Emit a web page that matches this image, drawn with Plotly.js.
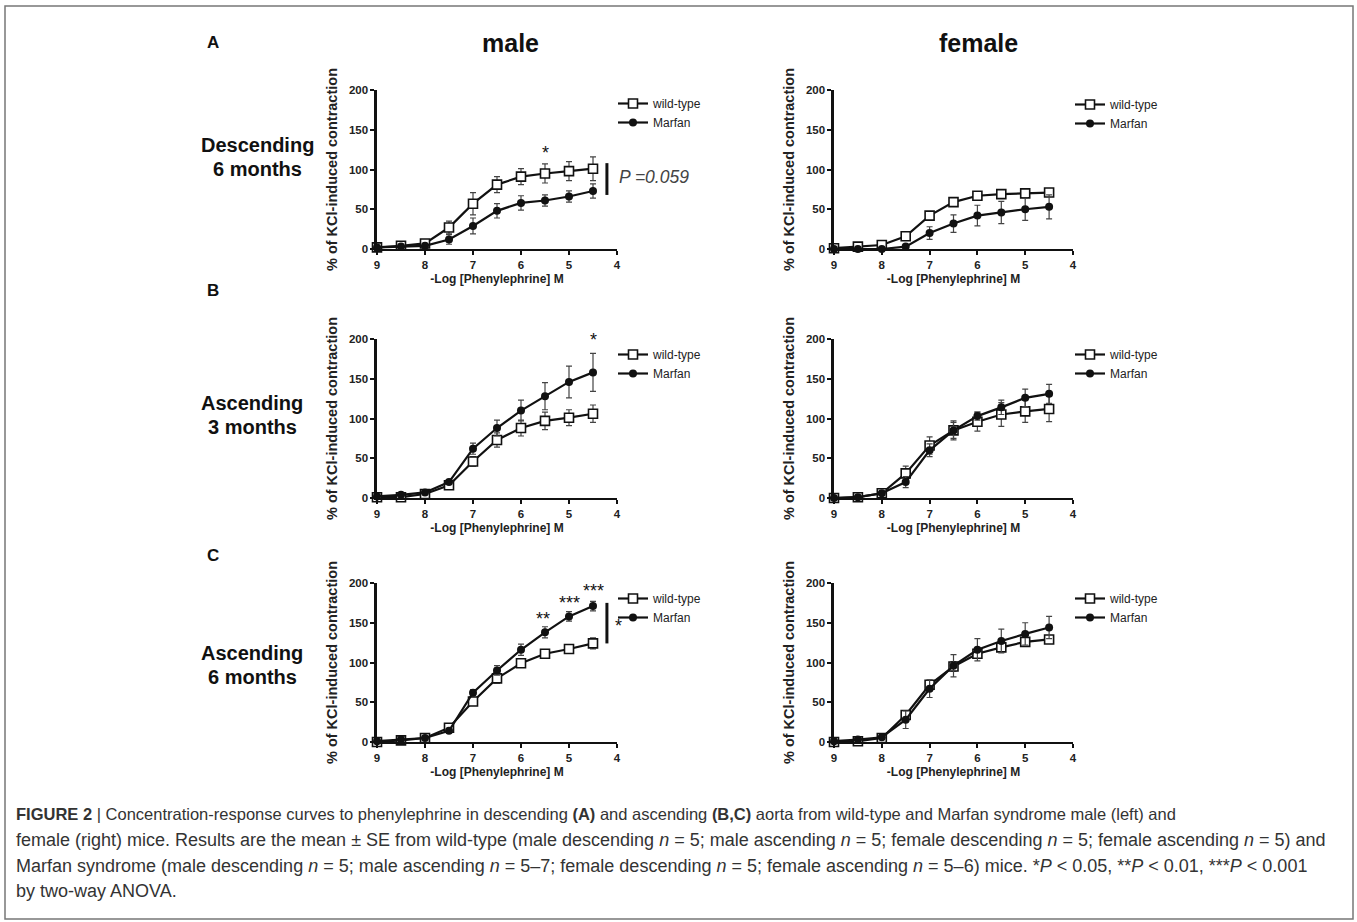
<!DOCTYPE html>
<html>
<head>
<meta charset="utf-8">
<script src="https://cdn.plot.ly/plotly-3.0.1.min.js"></script>
<style>html,body{margin:0;padding:0;background:#fff;}#chart{width:1357px;height:922px;}</style>
</head>
<body>
<div id="chart"></div>
<script>
// -Log [Phenylephrine] M
const logConc = [9, 8.5, 8, 7.5, 7, 6.5, 6, 5.5, 5, 4.5];
const xTicks = [9, 8, 7, 6, 5, 4];
const yTicks = [0, 50, 100, 150, 200];
const seriesNames = ['wild-type', 'Marfan'];

// A: Descending aorta, 6 months
const maleDescWT = [2, 4, 7, 27, 57, 81, 91, 95, 98, 101];
const maleDescWTse = [1, 2, 2, 8, 14, 10, 10, 12, 12, 15];
const maleDescMF = [2, 3, 4, 12, 29, 48, 58, 61, 66, 73];
const maleDescMFse = [1, 1, 2, 6, 10, 9, 9, 7, 7, 9];
const femDescWT = [1, 3, 5, 16, 42, 59, 67, 69, 70, 71];
const femDescWTse = [3, 3, 2, 2, 3, 2, 2, 2, 2, 2];
const femDescMF = [0, 0, 0, 3, 20, 32, 42, 46, 50, 53];
const femDescMFse = [1, 1, 1, 2, 8, 11, 13, 14, 14, 15];

// B: Ascending aorta, 3 months
const maleAsc3WT = [1, 1, 5, 16, 46, 73, 88, 97, 101, 106];
const maleAsc3WTse = [1, 1, 2, 3, 6, 9, 10, 11, 10, 11];
const maleAsc3MF = [2, 4, 7, 20, 62, 88, 110, 128, 146, 158];
const maleAsc3MFse = [1, 1, 2, 3, 7, 10, 13, 17, 20, 24];
const femAsc3WT = [0, 1, 6, 31, 66, 85, 96, 105, 109, 112];
const femAsc3WTse = [1, 1, 2, 9, 11, 12, 12, 15, 14, 16];
const femAsc3MF = [0, 1, 6, 20, 60, 85, 103, 114, 126, 131];
const femAsc3MFse = [1, 1, 2, 7, 8, 10, 5, 9, 11, 12];

// C: Ascending aorta, 6 months
const maleAsc6WT = [0, 2, 5, 18, 51, 80, 99, 111, 117, 124];
const maleAsc6WTse = [1, 1, 2, 3, 5, 6, 5, 5, 5, 7];
const maleAsc6MF = [1, 3, 5, 14, 62, 90, 116, 138, 158, 171];
const maleAsc6MFse = [1, 1, 2, 3, 4, 6, 7, 7, 6, 6];
const femAsc6WT = [0, 1, 5, 34, 72, 95, 111, 119, 126, 129];
const femAsc6WTse = [1, 1, 2, 5, 6, 6, 5, 5, 4, 3];
const femAsc6MF = [1, 3, 6, 28, 67, 96, 116, 127, 136, 144];
const femAsc6MFse = [1, 1, 2, 11, 11, 14, 14, 15, 14, 14];

const panels = [
  {wt: maleDescWT, wtse: maleDescWTse, mf: maleDescMF, mfse: maleDescMFse},
  {wt: femDescWT, wtse: femDescWTse, mf: femDescMF, mfse: femDescMFse},
  {wt: maleAsc3WT, wtse: maleAsc3WTse, mf: maleAsc3MF, mfse: maleAsc3MFse},
  {wt: femAsc3WT, wtse: femAsc3WTse, mf: femAsc3MF, mfse: femAsc3MFse},
  {wt: maleAsc6WT, wtse: maleAsc6WTse, mf: maleAsc6MF, mfse: maleAsc6MFse},
  {wt: femAsc6WT, wtse: femAsc6WTse, mf: femAsc6MF, mfse: femAsc6MFse}
];

const W = 1357, H = 922;
const px = v => v / W;
const py = v => 1 - v / H;
const FONT = 'Liberation Sans, Arial, sans-serif';

// panel pixel boxes
const colX = [[377, 617], [834, 1073]];
const rowY = [[90, 249], [339, 498], [583, 742]];
const legendPos = [[613, 89], [1070, 90], [613, 340], [1070, 340], [613, 584], [1070, 584]];

const traces = [];
const layout = {
  width: W, height: H,
  margin: {l: 0, r: 0, t: 0, b: 0},
  paper_bgcolor: '#fff', plot_bgcolor: 'rgba(0,0,0,0)',
  font: {family: FONT, color: '#111'},
  annotations: [], shapes: []
};

panels.forEach((p, i) => {
  const n = i + 1;
  const xa = n === 1 ? 'x' : 'x' + n;
  const ya = n === 1 ? 'y' : 'y' + n;
  const lg = n === 1 ? 'legend' : 'legend' + n;
  const col = i % 2, row = Math.floor(i / 2);
  traces.push({
    x: logConc, y: p.wt, xaxis: xa, yaxis: ya, legend: lg,
    name: seriesNames[0], type: 'scatter', mode: 'lines+markers', cliponaxis: false,
    line: {color: '#111', width: 2.2},
    marker: {symbol: 'square', size: 9, color: '#fff', line: {color: '#111', width: 1.6}},
    error_y: {type: 'data', array: p.wtse, visible: true, color: '#444', thickness: 1.2, width: 3}
  });
  traces.push({
    x: logConc, y: p.mf, xaxis: xa, yaxis: ya, legend: lg,
    name: seriesNames[1], type: 'scatter', mode: 'lines+markers', cliponaxis: false,
    line: {color: '#111', width: 2.2},
    marker: {symbol: 'circle', size: 8, color: '#111'},
    error_y: {type: 'data', array: p.mfse, visible: true, color: '#444', thickness: 1.2, width: 3}
  });
  const xKey = n === 1 ? 'xaxis' : 'xaxis' + n;
  const yKey = n === 1 ? 'yaxis' : 'yaxis' + n;
  layout[xKey] = {
    domain: [px(colX[col][0]), px(colX[col][1])], anchor: ya,
    range: [9, 4], tickvals: xTicks, ticktext: xTicks.map(String),
    showline: true, linecolor: '#111', linewidth: 2.2,
    ticks: 'outside', ticklen: 4, tickwidth: 2, tickcolor: '#111',
    showgrid: false, zeroline: false,
    tickfont: {size: 11.5, weight: 'bold', color: '#222', family: FONT},
    title: {text: '-Log [Phenylephrine] M', standoff: 5,
            font: {size: 12, weight: 'bold', color: '#222', family: FONT}}
  };
  layout[yKey] = {
    domain: [py(rowY[row][1]), py(rowY[row][0])], anchor: xa,
    range: [0, 200], tickvals: yTicks, ticktext: yTicks.map(String),
    showline: true, linecolor: '#111', linewidth: 2.6,
    ticks: 'outside', ticklen: 4, tickwidth: 2, tickcolor: '#111',
    showgrid: false, zeroline: false,
    tickfont: {size: 11.5, weight: 'bold', color: '#222', family: FONT},
    title: {text: '% of KCl-induced contraction', standoff: 8,
            font: {size: 14.5, weight: 'bold', color: '#222', family: FONT}}
  };
  layout[lg] = {
    x: px(legendPos[i][0]), y: py(legendPos[i][1]), xanchor: 'left', yanchor: 'top',
    bgcolor: 'rgba(0,0,0,0)', borderwidth: 0, tracegroupgap: 0,
    font: {size: 12, color: '#222', family: FONT}, itemwidth: 30
  };
});

const ann = layout.annotations;
function txt(text, x, y, size, opts) {
  ann.push(Object.assign({
    text: text, x: px(x), y: py(y), xref: 'paper', yref: 'paper',
    showarrow: false, xanchor: 'center', yanchor: 'middle',
    font: {family: FONT, size: size, color: '#111'}
  }, opts || {}));
}
// column headers and panel letters
txt('<b>male</b>', 510, 43, 25);
txt('<b>female</b>', 978, 43, 25);
txt('<b>A</b>', 213, 43, 17);
txt('<b>B</b>', 213, 291, 17);
txt('<b>C</b>', 213, 555, 17);
// row labels
txt('<b>Descending</b>', 257, 145, 20);
txt('<b>6 months</b>', 257, 169, 20);
txt('<b>Ascending</b>', 252, 403, 20);
txt('<b>3 months</b>', 252, 427, 20);
txt('<b>Ascending</b>', 252, 653, 20);
txt('<b>6 months</b>', 252, 677, 20);

// significance marks (data-space placement)
function star(text, xa, ya, x, y, size) {
  ann.push({text: text, x: x, y: y, xref: xa, yref: ya, showarrow: false,
    xanchor: 'center', yanchor: 'middle', font: {family: FONT, size: size || 18, color: '#111'}});
}
star('*', 'x', 'y', 5.5, 121);
star('*', 'x3', 'y3', 4.5, 199);
star('**', 'x5', 'y5', 5.55, 155);
star('***', 'x5', 'y5', 5.0, 175);
star('***', 'x5', 'y5', 4.5, 190);
// marks beside the plot area (paper placement)
txt('*', 618, 626, 18);
txt('<i>P =0.059</i>', 617, 177, 17.5, {xanchor: 'left', font: {family: FONT, size: 17.5, color: '#444'}});
layout.shapes.push({type: 'line', xref: 'x', yref: 'y', x0: 4.21, x1: 4.21, y0: 68, y1: 108,
  line: {color: '#111', width: 3}});
layout.shapes.push({type: 'line', xref: 'x5', yref: 'y5', x0: 4.21, x1: 4.21, y0: 124, y1: 175,
  line: {color: '#111', width: 3}});

// outer frame
layout.shapes.push({type: 'rect', xref: 'paper', yref: 'paper', x0: px(5), x1: px(1353), y0: py(919), y1: py(6),
  line: {color: '#777', width: 1.5}, fillcolor: 'rgba(0,0,0,0)', layer: 'below'});

// caption
const capLines = [
  '<b>FIGURE 2</b> | Concentration-response curves to phenylephrine in descending <b>(A)</b> and ascending <b>(B,C)</b> aorta from wild-type and Marfan syndrome male (left) and',
  'female (right) mice. Results are the mean ± SE from wild-type (male descending <i>n</i> = 5; male ascending <i>n</i> = 5; female descending <i>n</i> = 5; female ascending <i>n</i> = 5) and',
  'Marfan syndrome (male descending <i>n</i> = 5; male ascending <i>n</i> = 5–7; female descending <i>n</i> = 5; female ascending <i>n</i> = 5–6) mice. *<i>P</i> < 0.05, **<i>P</i> < 0.01, ***<i>P</i> < 0.001',
  'by two-way ANOVA.'
];
const capY = [814, 840, 866, 891];
const capSize = [16.5, 18, 18, 18];
capLines.forEach((t, k) => txt(t, 14, capY[k], capSize[k],
  {xanchor: 'left', font: {family: FONT, size: capSize[k], color: '#333'}}));

Plotly.newPlot('chart', traces, layout, {displayModeBar: false, staticPlot: true});
</script>
</body>
</html>
